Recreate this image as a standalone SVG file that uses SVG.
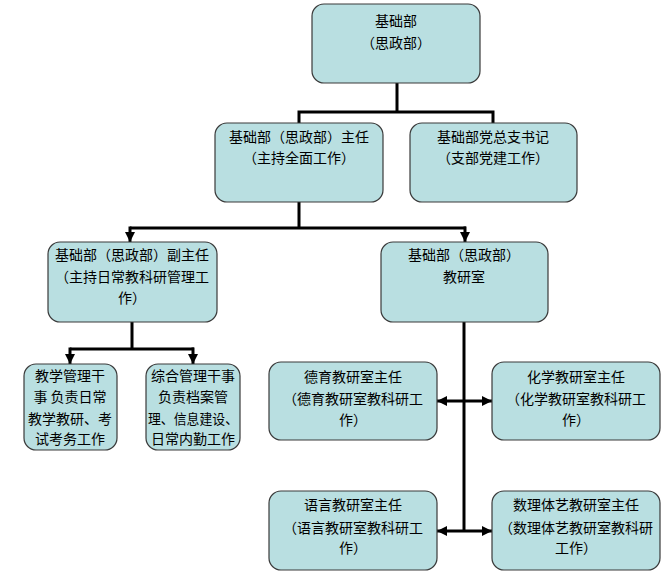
<svg xmlns="http://www.w3.org/2000/svg" width="664" height="574" viewBox="0 0 664 574">
<style>
.box{fill:#b9dfe1;stroke:#3a3a3a;stroke-width:1.2}
.t{font-family:"Noto Sans CJK SC","Noto Sans",sans-serif;font-size:14px;fill:#000;text-anchor:middle}
.c{fill:none;stroke:#000;stroke-width:3}
</style>
<defs>
<marker id="ah" markerUnits="userSpaceOnUse" markerWidth="10" markerHeight="10" viewBox="0 0 10 10" refX="10" refY="5" orient="auto-start-reverse">
<path d="M0,0 L10,5 L0,10 Z" fill="#000"/>
</marker>
</defs>
<rect width="664" height="574" fill="#fff"/>
<g id="connectors">
<path class="c" d="M397,83 V112 M299,112 H494 M299,110.5 V123 M493,110.5 V123"/>
<path class="c" d="M299,202 V228 M130,228 H466"/>
<path class="c" d="M130,226.5 V242" marker-end="url(#ah)"/>
<path class="c" d="M465,226.5 V242" marker-end="url(#ah)"/>
<path class="c" d="M132,322 V349 M70,349 H194"/>
<path class="c" d="M70,347.5 V364" marker-end="url(#ah)"/>
<path class="c" d="M193,347.5 V364" marker-end="url(#ah)"/>
<path class="c" d="M464,322 V531"/>
<path class="c" d="M437,401 H492" marker-start="url(#ah)" marker-end="url(#ah)"/>
<path class="c" d="M437,531 H492" marker-start="url(#ah)" marker-end="url(#ah)"/>
</g>
<g id="n1"><rect class="box" x="312" y="4" width="168" height="79" rx="12"/>
<text class="t" x="396" y="26">基础部</text><text class="t" x="396" y="48">（思政部）</text></g>
<g id="n2"><rect class="box" x="215" y="123" width="168" height="79" rx="12"/>
<text class="t" x="299" y="142">基础部（思政部）主任</text><text class="t" x="299" y="163">（主持全面工作）</text></g>
<g id="n3"><rect class="box" x="410" y="123" width="167" height="79" rx="12"/>
<text class="t" x="493" y="142">基础部党总支书记</text><text class="t" x="493" y="163">（支部党建工作）</text></g>
<g id="n4"><rect class="box" x="48" y="242" width="169" height="80" rx="12"/>
<text class="t" x="132" y="260">基础部（思政部）副主任</text><text class="t" x="132" y="282">（主持日常教科研管理工</text><text class="t" x="132" y="303">作）</text></g>
<g id="n5"><rect class="box" x="381" y="242" width="167" height="80" rx="12"/>
<text class="t" x="464" y="260">基础部（思政部）</text><text class="t" x="464" y="282">教研室</text></g>
<g id="n6"><rect class="box" x="24" y="364" width="93" height="86" rx="12"/>
<text class="t" x="70" y="381">教学管理干</text><text class="t" x="70" y="402">事 负责日常</text><text class="t" x="70" y="424">教学教研、考</text><text class="t" x="70" y="444">试考务工作</text></g>
<g id="n7"><rect class="box" x="146" y="364" width="94" height="86" rx="12"/>
<text class="t" x="193" y="381">综合管理干事</text><text class="t" x="193" y="402">负责档案管</text><text class="t" x="193" y="424" textLength="90" lengthAdjust="spacingAndGlyphs">理、信息建设、</text><text class="t" x="193" y="444">日常内勤工作</text></g>
<g id="n8"><rect class="box" x="269" y="362" width="168" height="78" rx="12"/>
<text class="t" x="353" y="382">德育教研室主任</text><text class="t" x="353" y="404">（德育教研室教科研工</text><text class="t" x="353" y="425">作）</text></g>
<g id="n9"><rect class="box" x="492" y="362" width="168" height="78" rx="12"/>
<text class="t" x="576" y="382">化学教研室主任</text><text class="t" x="576" y="404">（化学教研室教科研工</text><text class="t" x="576" y="425">作）</text></g>
<g id="n10"><rect class="box" x="269" y="491" width="168" height="79" rx="12"/>
<text class="t" x="353" y="510">语言教研室主任</text><text class="t" x="353" y="533">（语言教研室教科研工</text><text class="t" x="353" y="553">作）</text></g>
<g id="n11"><rect class="box" x="492" y="491" width="168" height="79" rx="12"/>
<text class="t" x="576" y="510">数理体艺教研室主任</text><text class="t" x="576" y="533">（数理体艺教研室教科研</text><text class="t" x="576" y="553">工作）</text></g>
</svg>
